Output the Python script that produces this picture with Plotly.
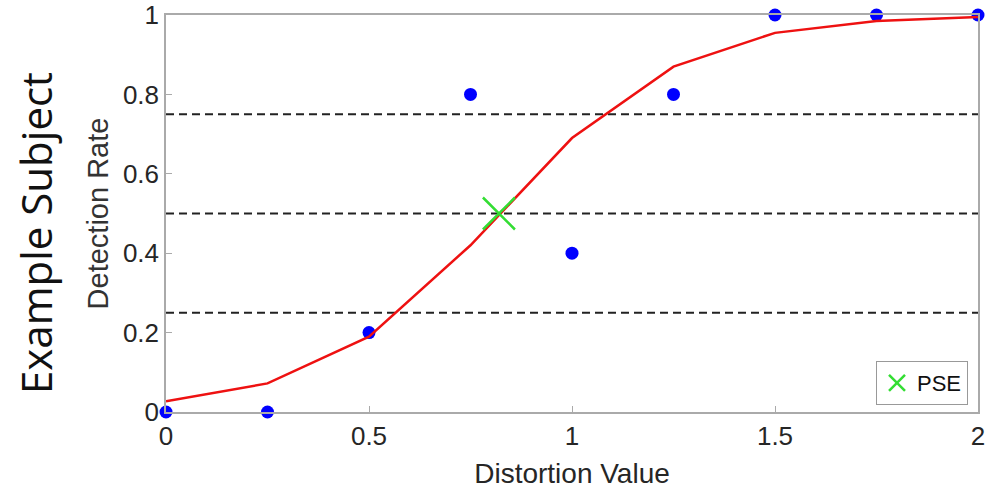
import plotly.graph_objects as go

# Data
distortion = [0, 0.25, 0.5, 0.75, 1.0, 1.25, 1.5, 1.75, 2.0]
detection_rate = [0, 0, 0.2, 0.8, 0.4, 0.8, 1.0, 1.0, 1.0]
fit_rate = [0.027, 0.072, 0.19, 0.42, 0.69, 0.87, 0.955, 0.985, 0.995]
pse_x = [0.82]
pse_y = [0.5]
thresholds = [0.25, 0.5, 0.75]
x_ticks = [0, 0.5, 1, 1.5, 2]
x_tick_labels = ["0", "0.5", "1", "1.5", "2"]
y_ticks = [0, 0.2, 0.4, 0.6, 0.8, 1]
y_tick_labels = ["0", "0.2", "0.4", "0.6", "0.8", "1"]

W, H = 986, 492
ML, MR, MT, MB = 166, 8, 15, 80

fig = go.Figure()

for t in thresholds:
    fig.add_trace(go.Scatter(x=[distortion[0], distortion[-1]], y=[t, t], mode="lines",
                             line=dict(color="#222222", width=2, dash="8px,5px"),
                             showlegend=False, hoverinfo="skip"))

fig.add_trace(go.Scatter(x=distortion, y=detection_rate, mode="markers",
                         marker=dict(color="#0000ff", size=13),
                         showlegend=False, cliponaxis=False))

fig.add_trace(go.Scatter(x=distortion, y=fit_rate, mode="lines",
                         line=dict(color="#ee1111", width=2.5),
                         showlegend=False, cliponaxis=False))

fig.add_trace(go.Scatter(x=pse_x, y=pse_y, mode="markers", name="PSE",
                         marker=dict(symbol="x-thin", size=32, color="#33dd33",
                                     line=dict(color="#33dd33", width=2.5)),
                         showlegend=True))

plot_w = W - ML - MR
plot_h = H - MT - MB
lab_x, lab_y = 35, 233

fig.update_layout(
    width=W, height=H,
    margin=dict(l=ML, r=MR, t=MT, b=MB),
    paper_bgcolor="white", plot_bgcolor="white",
    font=dict(family="Liberation Sans, Arial, sans-serif", color="#262626"),
    legend=dict(x=(968 - ML) / plot_w, y=(H - MB - 405) / plot_h, xanchor="right", yanchor="bottom",
                bgcolor="white", bordercolor="#999999", borderwidth=1,
                font=dict(size=22, color="#111111"),
                itemwidth=30, tracegroupgap=0),
    annotations=[dict(text="Example Subject", x=(lab_x - ML) / plot_w, y=(H - MB - lab_y) / plot_h,
                      xref="paper", yref="paper",
                      xanchor="center", yanchor="middle", textangle=-90, showarrow=False,
                      font=dict(family="Open Sans, Noto Sans, sans-serif", size=42, color="#111111"))],
)

fig.update_xaxes(range=[0, 2], tickvals=x_ticks, ticktext=x_tick_labels, automargin=False,
                 showgrid=False, zeroline=False, showline=True, linecolor="#aaaaaa",
                 linewidth=1.5, mirror=True, ticks="inside", ticklen=6, tickcolor="#aaaaaa",
                 tickfont=dict(size=26), title=dict(text="Distortion Value", font=dict(size=28), standoff=13))
fig.update_yaxes(range=[0, 1], tickvals=y_ticks, ticktext=y_tick_labels, automargin=False,
                 showgrid=False, zeroline=False, showline=True, linecolor="#aaaaaa",
                 linewidth=1.5, mirror=True, ticks="inside", ticklen=6, tickcolor="#aaaaaa",
                 tickfont=dict(size=26), ticklabelstandoff=0,
                 title=dict(text="Detection Rate", font=dict(size=29, color="#333333"), standoff=6))

fig.write_html("out.html", config={"displayModeBar": False},
               post_script="document.body.style.margin='0';document.body.style.overflow='hidden';")
